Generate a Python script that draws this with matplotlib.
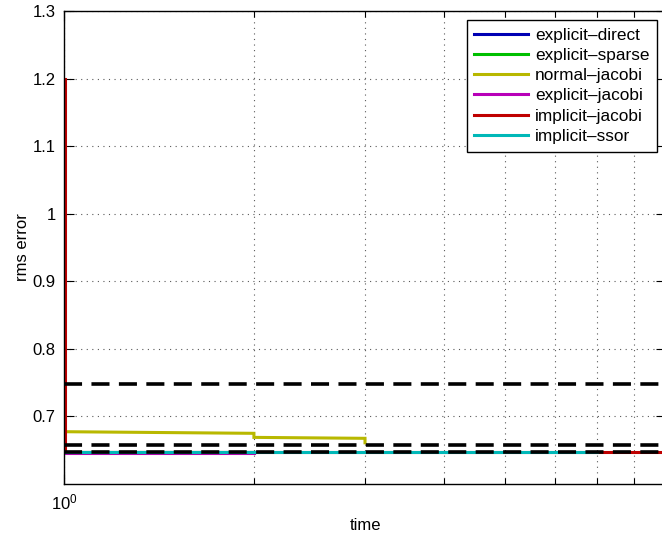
import matplotlib
matplotlib.use("Agg")
import matplotlib.pyplot as plt
from matplotlib.ticker import FixedLocator, NullFormatter

plt.rcParams['font.family'] = ['Liberation Sans', 'DejaVu Sans']
plt.rcParams['mathtext.fontset'] = 'custom'
plt.rcParams['mathtext.rm'] = 'Liberation Sans'
plt.rcParams['mathtext.it'] = 'Liberation Sans'

# ---- data ----
labels = ["explicit\u2013direct", "explicit\u2013sparse", "normal\u2013jacobi",
          "explicit\u2013jacobi", "implicit\u2013jacobi", "implicit\u2013ssor"]
colors = [(0, 0, 0.7), (0, 0.75, 0), (0.72, 0.72, 0), (0.72, 0, 0.72),
          (0.75, 0, 0), (0, 0.72, 0.72)]

t_direct = [1, 2]
e_direct = [0.6476, 0.6476]
t_sparse = [1, 2]
e_sparse = [0.6476, 0.6476]
t_normal = [1, 2, 2, 3, 3]
e_normal = [0.6774, 0.675, 0.669, 0.6676, 0.661]
t_expjac = [1, 2]
e_expjac = [0.6454, 0.6454]
t_impjac = [1.004, 1.004, 9]
e_impjac = [1.2, 0.6476, 0.6476]
t_ssor = [1, 7]
e_ssor = [0.6476, 0.6476]

ref_levels = [0.748, 0.658, 0.6478]

yticks = [0.7, 0.8, 0.9, 1.0, 1.1, 1.2, 1.3]
yticklabels = ["0.7", "0.8", "0.9", "1", "1.1", "1.2", "1.3"]

# ---- figure ----
W, H = 662, 538
fig = plt.figure(figsize=(W / 100, H / 100), dpi=100)
ax = fig.add_axes([64 / W, 1 - 484 / H, (666 - 64) / W, (484 - 11) / H])

series = [(t_direct, e_direct), (t_sparse, e_sparse), (t_normal, e_normal),
          (t_expjac, e_expjac), (t_impjac, e_impjac), (t_ssor, e_ssor)]
zorders = [2.0, 2.01, 2.02, 2.0, 2.03, 2.05]
handles = []
for (t, e), c, lab, z in zip(series, colors, labels, zorders):
    h, = ax.plot(t, e, color=c, lw=2.2, label=lab, zorder=z,
                 solid_joinstyle='miter')
    handles.append(h)

for lv in ref_levels:
    ax.axhline(lv, color='black', lw=2.6, linestyle=(0, (5.0, 2.6)), zorder=2.2)

ax.set_xscale('log')
ax.set_xlim(1, 9)
ax.set_ylim(0.6, 1.3)
ax.set_yticks(yticks)
ax.set_yticklabels(yticklabels)
ax.xaxis.set_major_locator(FixedLocator([1]))
ax.set_xticklabels([r"$10^0$"])
ax.xaxis.set_minor_locator(FixedLocator([2, 3, 4, 5, 6, 7, 8]))
ax.xaxis.set_minor_formatter(NullFormatter())

ax.tick_params(which='both', direction='in', top=True, right=True,
               labelsize=12, colors='black')
ax.tick_params(which='major', length=7, width=0.8, pad=6)
ax.tick_params(which='minor', length=4, width=0.8)

grid_kw = dict(color='0.35', linestyle=(0, (1, 4)), linewidth=0.8)
ax.grid(True, which='major', axis='y', **grid_kw)
ax.grid(True, which='both', axis='x', **grid_kw)
ax.set_axisbelow(True)

for s in ax.spines.values():
    s.set_linewidth(1.0)
    s.set_color('black')

ax.set_xlabel("time", fontsize=12, labelpad=4)
ax.set_ylabel("rms error", fontsize=12, labelpad=2)

leg = ax.legend(handles=handles, loc='upper right',
                bbox_to_anchor=(657 / W, 1 - 20 / H),
                bbox_transform=fig.transFigure, borderaxespad=0,
                fontsize=12.4, frameon=True, fancybox=False, shadow=False,
                handlelength=3.1, handletextpad=0.4, labelspacing=0.3,
                borderpad=0.45)
leg.get_frame().set_edgecolor('black')
leg.get_frame().set_linewidth(1.0)
leg.get_frame().set_alpha(1)

fig.savefig("out.png", dpi=100)
